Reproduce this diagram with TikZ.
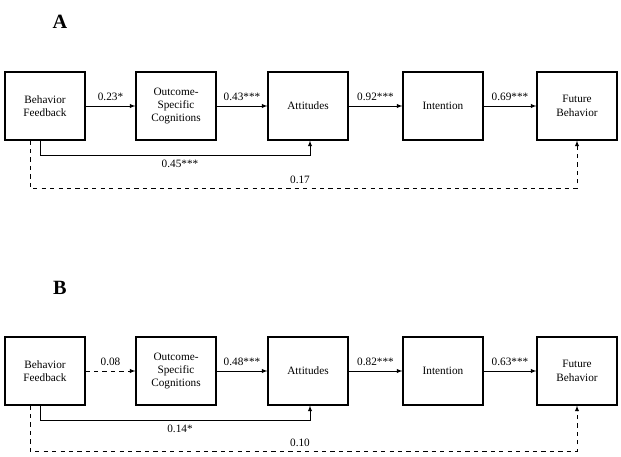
\documentclass[tikz,border=0pt]{standalone}
\usepackage{fontspec}
\setmainfont{Liberation Serif}
\usetikzlibrary{positioning}
\tikzset{
  box/.style={draw, thick, minimum width=2cm, minimum height=1.7cm, align=center, font=\fontsize{8}{9.5}\selectfont},
  lbl/.style={font=\fontsize{8}{9.5}\selectfont},
  arr/.style={-latex, thin}
}
\begin{document}
\begin{tikzpicture}[x=0.025cm, y=-0.025cm]
  \useasboundingbox (0,0) rectangle (621,457);

  % panel A
  \node[name=LA, font=\bfseries\Large] at (60,22) {A};
  \node[name=a1, box] at (45,106) {Behavior\\Feedback};
  \node[name=a2, box] at (176,106) {Outcome-\\Specific\\Cognitions};
  \node[name=a3, box] at (308,106) {Attitudes};
  \node[name=a4, box] at (443,106) {Intention};
  \node[name=a5, box] at (577,106) {Future\\Behavior};
  \draw[arr] (a1) -- (a2) node[lbl, midway, above] {0.23*};
  \draw[arr] (a2) -- (a3) node[lbl, midway, above] {0.43***};
  \draw[arr] (a3) -- (a4) node[lbl, midway, above] {0.92***};
  \draw[arr] (a4) -- (a5) node[lbl, midway, above] {0.69***};
  \draw[arr] (a1.south -| 40,0) |- (310,155) -- (a3.south -| 310,0);
  \node[name=pA1, lbl] at (180,164) {0.45***};
  \draw[arr, dashed] (a1.south -| 30,0) |- (577,188) -- (a5.south);
  \node[name=pA2, lbl] at (300,180) {0.17};

  % panel B
  \node[name=LB, font=\bfseries\Large] at (60,288) {B};
  \node[name=b1, box] at (45,371) {Behavior\\Feedback};
  \node[name=b2, box] at (176,371) {Outcome-\\Specific\\Cognitions};
  \node[name=b3, box] at (308,371) {Attitudes};
  \node[name=b4, box] at (443,371) {Intention};
  \node[name=b5, box] at (577,371) {Future\\Behavior};
  \draw[arr, dashed] (b1) -- (b2) node[lbl, midway, above] {0.08};
  \draw[arr] (b2) -- (b3) node[lbl, midway, above] {0.48***};
  \draw[arr] (b3) -- (b4) node[lbl, midway, above] {0.82***};
  \draw[arr] (b4) -- (b5) node[lbl, midway, above] {0.63***};
  \draw[arr] (b1.south -| 40,0) |- (310,420) -- (b3.south -| 310,0);
  \node[name=pB1, lbl] at (180,429) {0.14*};
  \draw[arr, dashed] (b1.south -| 30,0) |- (577,451) -- (b5.south);
  \node[name=pB2, lbl] at (300,443) {0.10};
\end{tikzpicture}
\end{document}
